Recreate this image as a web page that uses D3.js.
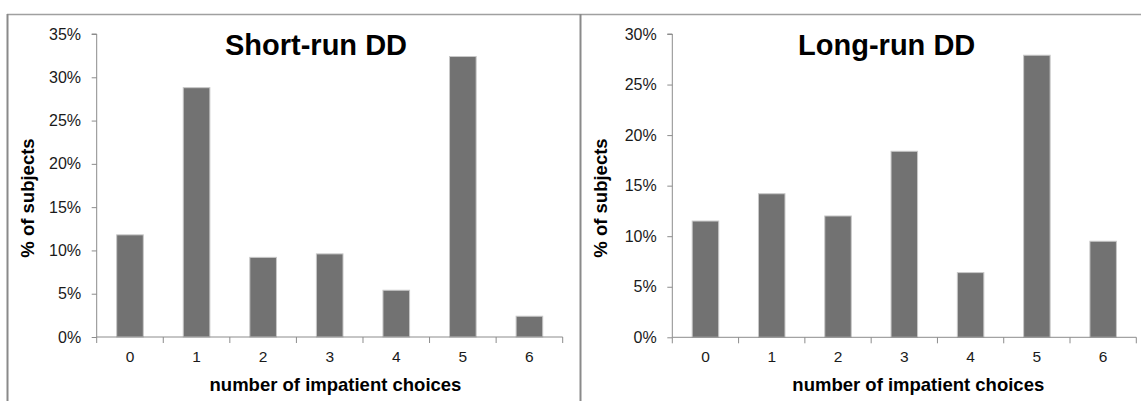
<!DOCTYPE html>
<html><head><meta charset="utf-8">
<script src="https://cdn.jsdelivr.net/npm/d3@7"></script>
<style>
body{margin:0;background:#fff;}
svg{display:block;font-family:"Liberation Sans",Arial,sans-serif;}
</style></head><body>
<svg id="c" width="1141" height="401"></svg>
<script>
const categories = ["0","1","2","3","4","5","6"];
const shortRun = [11.8, 28.8, 9.2, 9.6, 5.4, 32.4, 2.4];
const longRun = [11.5, 14.2, 12.0, 18.4, 6.4, 27.9, 9.5];
const shortTicks = [0,5,10,15,20,25,30,35];
const longTicks = [0,5,10,15,20,25,30];
const titles = ["Short-run DD","Long-run DD"];
const xTitle = "number of impatient choices";
const yTitle = "% of subjects";

const svg = d3.select("#c");
// frame lines
svg.append("line").attr("x1",7).attr("x2",1141).attr("y1",14.5).attr("y2",14.5).attr("stroke","#a0a0a0").attr("stroke-width",1.5);
svg.append("line").attr("x1",7.5).attr("x2",7.5).attr("y1",14).attr("y2",401).attr("stroke","#8a8a8a").attr("stroke-width",2);
svg.append("line").attr("x1",580.5).attr("x2",580.5).attr("y1",14).attr("y2",401).attr("stroke","#8a8a8a").attr("stroke-width",2);

function panel(cfg){
  const g = svg.append("g");
  const x = d3.scaleBand().domain(categories).range([cfg.x0,cfg.x1]).paddingInner(0.6).paddingOuter(0.3);
  const xb = d3.scaleBand().domain(categories).range([cfg.x0,cfg.x1]);
  const y = d3.scaleLinear().domain([0,cfg.max]).range([cfg.y1,cfg.y0]);
  g.selectAll("rect").data(cfg.values).enter().append("rect")
    .attr("x",(d,i)=>x(categories[i]))
    .attr("width",x.bandwidth())
    .attr("y",d=>y(d))
    .attr("height",d=>y(0)-y(d))
    .attr("fill","#727272").attr("stroke","#c8c8c8").attr("stroke-width",1);
  // y axis
  const ya = g.append("g").attr("transform",`translate(${cfg.x0},0)`)
    .call(d3.axisLeft(y).tickValues(cfg.ticks).tickSize(5).tickPadding(10.6).tickFormat(d=>d+"%"));
  ya.attr("font-size",16).attr("font-family","Liberation Sans, Arial, sans-serif");
  ya.select(".domain").attr("stroke","#8c8c8c").attr("d",`M-5,${y(cfg.max)}H0V${y(0)}`);
  ya.selectAll(".tick line").attr("stroke","#8c8c8c");
  ya.selectAll("text").attr("fill","#1a1a1a");
  // x axis
  const xa = g.append("g").attr("transform",`translate(0,${cfg.y1})`)
    .call(d3.axisBottom(xb).tickSize(0).tickPadding(14));
  xa.attr("font-size",15.5).attr("font-family","Liberation Sans, Arial, sans-serif");
  xa.select(".domain").attr("stroke","#8c8c8c").attr("d",`M${cfg.x0},0H${cfg.x1}`);
  xa.selectAll("text").attr("fill","#1a1a1a");
  const edges = categories.map(c=>xb(c)).concat([cfg.x1]);
  g.selectAll("line.xt").data(edges).enter().append("line").attr("class","xt")
    .attr("x1",d=>d).attr("x2",d=>d).attr("y1",cfg.y1).attr("y2",cfg.y1+6).attr("stroke","#8c8c8c");
  // titles
  g.append("text").attr("x",cfg.tx).attr("y",55).attr("text-anchor","middle")
    .attr("font-size",29).attr("font-weight","bold").attr("fill","#000").text(cfg.title);
  g.append("text").attr("x",cfg.xtx).attr("y",390.5).attr("text-anchor","middle")
    .attr("font-size",18.5).attr("font-weight","bold").attr("fill","#000").text(xTitle);
  g.append("text").attr("transform",`translate(${cfg.yx},198) rotate(-90)`).attr("text-anchor","middle")
    .attr("font-size",18.5).attr("font-weight","bold").attr("fill","#000").text(yTitle);
}
panel({x0:96.7,x1:562.7,y0:34,y1:337,max:35,ticks:shortTicks,values:shortRun,title:titles[0],tx:316,xtx:335.5,yx:33.5});
panel({x0:672.3,x1:1136.3,y0:34,y1:337.3,max:30,ticks:longTicks,values:longRun,title:titles[1],tx:886.7,xtx:918.3,yx:606.5});
</script></body></html>
